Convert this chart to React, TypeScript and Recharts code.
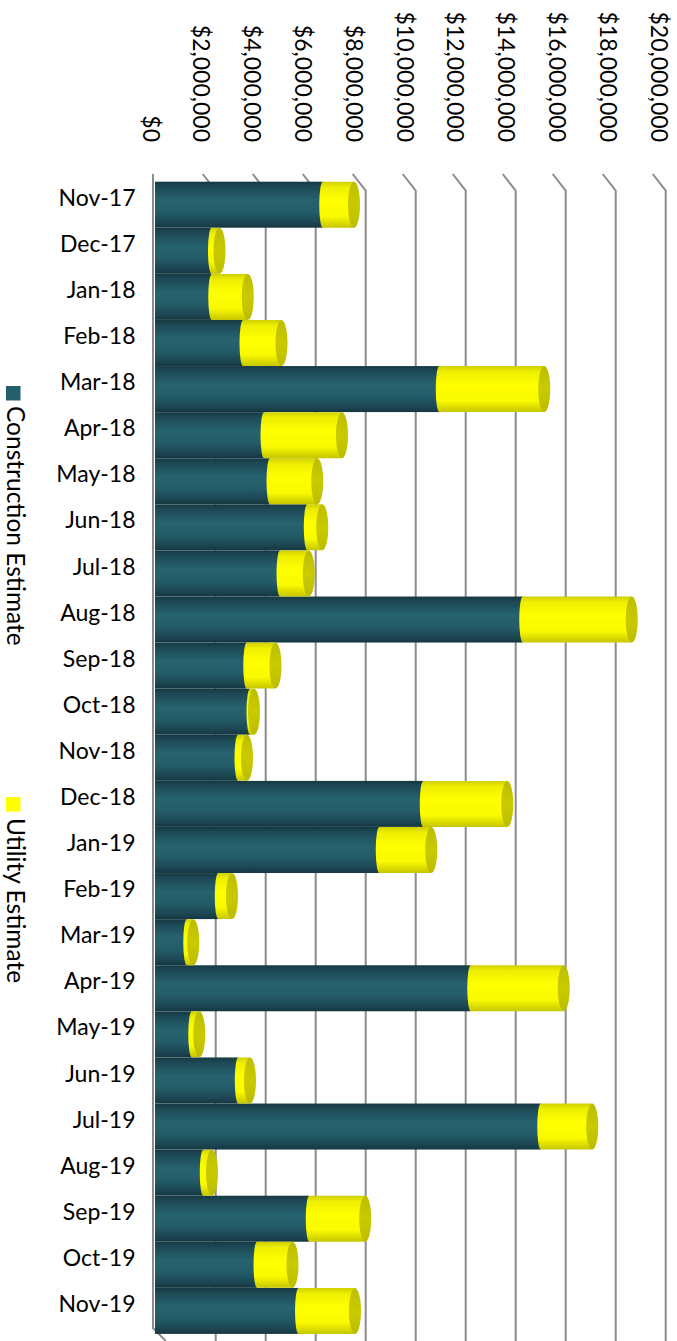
import React from 'react';
import { BarChart, Bar, XAxis, YAxis, CartesianGrid, Legend } from 'recharts';

const months = [
  'Nov-17', 'Dec-17', 'Jan-18', 'Feb-18', 'Mar-18', 'Apr-18', 'May-18', 'Jun-18', 'Jul-18',
  'Aug-18', 'Sep-18', 'Oct-18', 'Nov-18', 'Dec-18', 'Jan-19', 'Feb-19', 'Mar-19', 'Apr-19',
  'May-19', 'Jun-19', 'Jul-19', 'Aug-19', 'Sep-19', 'Oct-19', 'Nov-19',
];

const constructionEstimate = [
  6530000, 2080000, 2090000, 3340000, 11190000, 4180000, 4420000, 5910000, 4820000,
  14530000, 3490000, 3620000, 3140000, 10550000, 8790000, 2350000, 1090000, 12450000,
  1290000, 3150000, 15250000, 1750000, 5990000, 3900000, 5560000,
];

const utilityEstimate = [
  1250000, 320000, 1440000, 1540000, 4200000, 3120000, 1890000, 600000, 1150000,
  4360000, 1150000, 160000, 360000, 3360000, 2080000, 550000, 260000, 3720000,
  300000, 470000, 2060000, 350000, 2240000, 1420000, 2260000,
];

const valueTicks = [0, 2000000, 4000000, 6000000, 8000000, 10000000, 12000000, 14000000, 16000000, 18000000, 20000000];

const seriesNames = ['Construction Estimate', 'Utility Estimate'];
const seriesColors = ['#245F6C', '#FFFF00'];

const data = months.map((m, i) => ({
  month: m,
  construction: constructionEstimate[i],
  utility: utilityEstimate[i],
}));

const FONT = 'Lato, "Open Sans", sans-serif';
const RX = 6;
const JOIN_RX = 3.5;

const fmt = (v: number) => '$' + v.toLocaleString('en-US');

const ConstructionShape = (props: any) => {
  const { x, y, width, height } = props;
  if (width == null || height == null) return null;
  const left = x - 4.5;
  const right = x + width;
  return (
    <g>
      <rect x={left} y={y} width={Math.max(0, right - left)} height={height} fill="url(#tealGrad)" />
    </g>
  );
};

const UtilityShape = (props: any) => {
  const { x, y, width, height } = props;
  if (width == null || height == null) return null;
  const xs = x;
  const xe = x + width;
  const top = y;
  const bot = y + height;
  const ry = height / 2;
  const mid = y + ry;
  const d = `M ${xs},${top} L ${xe},${top} L ${xe},${bot} L ${xs},${bot} A ${JOIN_RX} ${ry} 0 0 1 ${xs},${top} Z`;
  return (
    <g>
      <path d={d} fill="url(#yellowGrad)" />
      <ellipse cx={xe} cy={mid} rx={RX} ry={ry} fill="url(#capGrad)" />
    </g>
  );
};

const XTick = (props: any) => {
  const { x, y, payload } = props;
  // label columns drift slightly with the 3D perspective
  const center = x - 9.5 + 0.4 * (payload.value / 1000000);
  const bx = center - 7.5;
  return (
    <text
      x={bx}
      y={y}
      transform={`rotate(90, ${bx}, ${y})`}
      textAnchor="end"
      fontSize={23}
      fontFamily={FONT}
      fill="#000"
    >
      {fmt(payload.value)}
    </text>
  );
};

const YTick = (props: any) => {
  const { x, y, payload } = props;
  return (
    <text x={x} y={y - 7} dy="0.35em" textAnchor="end" fontSize={23} fontFamily={FONT} fill="#000">
      {payload.value}
    </text>
  );
};

const gridLine = (p: any) => {
  const x = p.x1;
  const top = p.y1;
  const bottom = p.y2;
  const first = p.index === 0;
  const d = first
    ? `M ${x - 6.5},${top - 7.7} L ${x - 6.5},${bottom - 6} L ${x + 6.2},${bottom + 7}`
    : `M ${x - 6.8},${top - 7.7} L ${x + 6.2},${top + 9} L ${x + 6.2},${bottom + 7}`;
  return <path key={p.key ?? `g${p.index}`} d={d} stroke="#8c8c8c" strokeWidth={2} fill="none" />;
};

const legendPos = [
  { marker: 386, text: 406 },
  { marker: 797, text: 818 },
];

const renderLegend = (props: any) => {
  const payload = (props && props.payload) || [];
  return (
    <svg width={40} height={1341} style={{ display: 'block', overflow: 'visible' }}>
      {payload.map((item: any, i: number) => {
        const pos = legendPos[i] || legendPos[0];
        const tx = 6.5;
        return (
          <g key={item.value}>
            <rect x={6} y={pos.marker} width={14.5} height={14.5} fill={item.color} />
            <text
              x={tx}
              y={pos.text}
              transform={`rotate(90, ${tx}, ${pos.text})`}
              textAnchor="start"
              fontSize={24.5}
              fontFamily={FONT}
              fill="#000"
            >
              {item.value}
            </text>
          </g>
        );
      })}
    </svg>
  );
};

export default function App() {
  return (
    <div style={{ position: 'absolute', left: 0, top: 0, width: 677, height: 1341, background: '#fff' }}>
      <BarChart
        width={677}
        height={1341}
        data={data}
        layout="vertical"
        margin={{ top: 0, right: 17.5, left: 0, bottom: 7 }}
        barCategoryGap={0}
        style={{ fontFamily: FONT }}
      >
        <defs>
          <linearGradient id="tealGrad" x1="0" y1="0" x2="0" y2="1">
            <stop offset="0%" stopColor="#163943" />
            <stop offset="12%" stopColor="#1d4a56" />
            <stop offset="40%" stopColor="#26626f" />
            <stop offset="65%" stopColor="#245d6a" />
            <stop offset="88%" stopColor="#1c4753" />
            <stop offset="100%" stopColor="#153741" />
          </linearGradient>
          <linearGradient id="yellowGrad" x1="0" y1="0" x2="0" y2="1">
            <stop offset="0%" stopColor="#cfcf00" />
            <stop offset="12%" stopColor="#eeee00" />
            <stop offset="40%" stopColor="#ffff00" />
            <stop offset="75%" stopColor="#fafa00" />
            <stop offset="100%" stopColor="#c6c600" />
          </linearGradient>
          <linearGradient id="capGrad" x1="0" y1="0" x2="0" y2="1">
            <stop offset="0%" stopColor="#bdbd00" />
            <stop offset="50%" stopColor="#caca00" />
            <stop offset="100%" stopColor="#bcbc00" />
          </linearGradient>
        </defs>
        <CartesianGrid horizontal={false} vertical={gridLine} />
        <XAxis
          type="number"
          orientation="top"
          domain={[0, 20000000]}
          ticks={valueTicks}
          height={181.7}
          axisLine={false}
          tickLine={false}
          tickSize={0}
          tickMargin={39.7}
          interval={0}
          tick={<XTick />}
        />
        <YAxis
          type="category"
          dataKey="month"
          width={159.5}
          axisLine={false}
          tickLine={false}
          tickSize={0}
          tickMargin={24}
          interval={0}
          tick={<YTick />}
        />
        <Legend
          content={renderLegend}
          wrapperStyle={{ position: 'absolute', left: 0, top: 0, width: 0, height: 0, overflow: 'visible' }}
        />
        <Bar
          dataKey="construction"
          name={seriesNames[0]}
          stackId="a"
          fill={seriesColors[0]}
          shape={<ConstructionShape />}
          isAnimationActive={false}
        />
        <Bar
          dataKey="utility"
          name={seriesNames[1]}
          stackId="a"
          fill={seriesColors[1]}
          shape={<UtilityShape />}
          isAnimationActive={false}
        />
      </BarChart>
    </div>
  );
}
